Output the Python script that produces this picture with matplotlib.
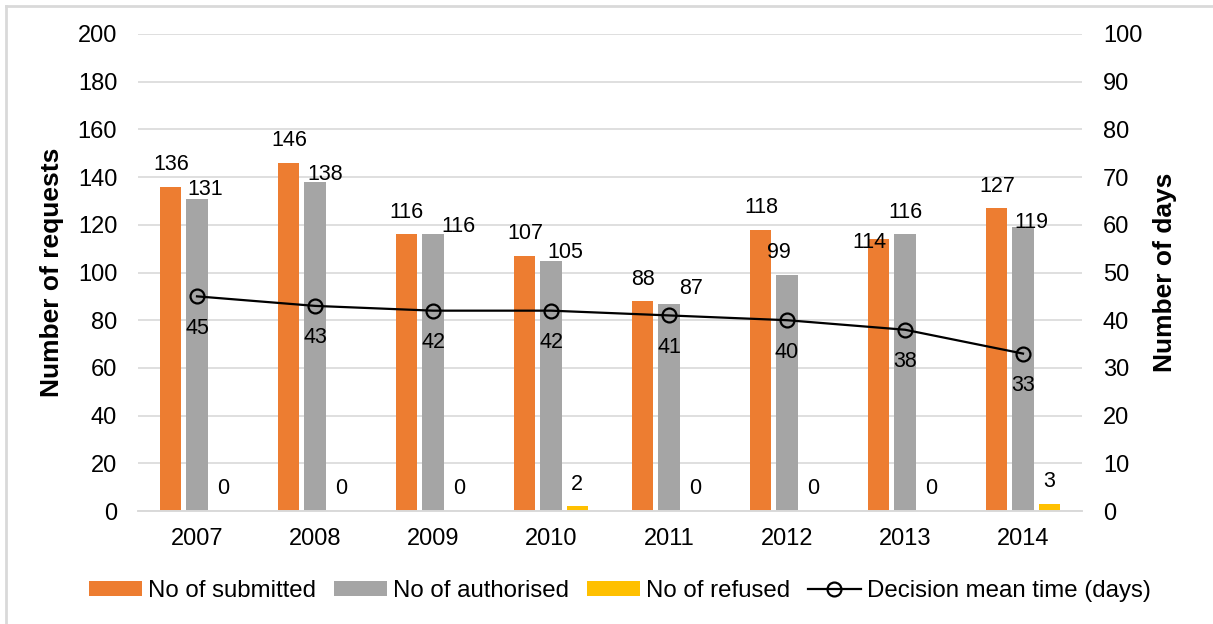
import numpy as np
import matplotlib
matplotlib.use("Agg")
import matplotlib.pyplot as plt
from matplotlib.lines import Line2D

plt.rcParams["font.family"] = ["Liberation Sans", "DejaVu Sans"]

years      = ["2007", "2008", "2009", "2010", "2011", "2012", "2013", "2014"]
submitted  = [136, 146, 116, 107, 88, 118, 114, 127]
authorised = [131, 138, 116, 105, 87, 99, 116, 119]
refused    = [0, 0, 0, 2, 0, 0, 0, 3]
mean_days  = [45, 43, 42, 42, 41, 40, 38, 33]

ORANGE = "#ED7D31"
GREY   = "#A5A5A5"
YELLOW = "#FFC000"
GRID   = "#D9D9D9"

# label nudges in pixels where the default spot would collide
NUDGE = {
    ("sub", 6): (-9, -3),
    ("aut", 0): (8, 9),
    ("aut", 1): (10, 7),
    ("aut", 2): (25, 8),
    ("aut", 3): (14, 8),
    ("aut", 4): (22, 15),
    ("aut", 5): (-8, 22),
    ("aut", 7): (8, 5),
}

W, H = 1213, 624
fig = plt.figure(figsize=(W / 100, H / 100), dpi=100, facecolor="white")
ax = fig.add_axes([138 / W, (H - 511) / H, 944 / W, 477 / H])
ax2 = ax.twinx()

x = np.arange(len(years))
bw, step = 0.178, 0.221
series = [("sub", submitted, ORANGE, -step, "No of submitted"),
          ("aut", authorised, GREY, 0.0, "No of authorised"),
          ("ref", refused, YELLOW, step, "No of refused")]

handles = []
for key, vals, col, off, name in series:
    bars = ax.bar(x + off, vals, width=bw, color=col, label=name, zorder=2)
    handles.append(bars)
    for i, v in enumerate(vals):
        dx, dy = NUDGE.get((key, i), (0, 22))
        ax.annotate(str(v), (x[i] + off, v), xytext=(dx, dy),
                    textcoords="offset pixels", ha="center", va="center",
                    fontsize=15.5, color="black", zorder=5)

ax.set_xlim(-0.5, len(years) - 0.5)
ax.set_ylim(0, 200)
ax.set_yticks(np.arange(0, 201, 20))
ax.set_xticks(x)
ax.set_xticklabels(years)
ax.set_axisbelow(True)
ax.yaxis.grid(True, color=GRID, lw=1.2)

line, = ax2.plot(x, mean_days, color="black", lw=1.6, marker="o", ms=10,
                 mfc="none", mec="black", mew=1.6, zorder=4,
                 label="Decision mean time (days)")
handles.append(line)
for i, v in enumerate(mean_days):
    ax2.annotate(str(v), (x[i], v), xytext=(0, -32), textcoords="offset pixels",
                 ha="center", va="center", fontsize=15.5, color="black")
ax2.set_ylim(0, 100)
ax2.set_yticks(np.arange(0, 101, 10))

for a in (ax, ax2):
    for s in ("top", "left", "right"):
        a.spines[s].set_visible(False)
    a.spines["bottom"].set_color(GRID)
    a.spines["bottom"].set_linewidth(1.2)
    a.tick_params(length=0, labelsize=17, colors="black")
ax.tick_params(axis="y", pad=15)
ax2.tick_params(axis="y", pad=15)
ax.tick_params(axis="x", pad=12)

fig.text(52 / W, 1 - 272 / H, "Number of requests", rotation=90, ha="center",
         va="center", fontsize=19, fontweight="bold")
fig.text(1165 / W, 1 - 272 / H, "Number of days", rotation=90, ha="center",
         va="center", fontsize=19, fontweight="bold")

fig.legend(handles=handles, loc="center", bbox_to_anchor=(620 / W, 1 - 591 / H),
           ncol=4, frameon=False, fontsize=17.3, handlelength=2.2,
           handleheight=0.6, handletextpad=0.25, columnspacing=0.75)

# thin chart-area frame along the left and top edges
fig.add_artist(Line2D([6 / W, 6 / W], [0, 1 - 6 / H], transform=fig.transFigure,
                      color=GRID, lw=2))
fig.add_artist(Line2D([6 / W, 1], [1 - 6 / H, 1 - 6 / H], transform=fig.transFigure,
                      color=GRID, lw=2))

fig.savefig("out.png", dpi=100, facecolor="white")
